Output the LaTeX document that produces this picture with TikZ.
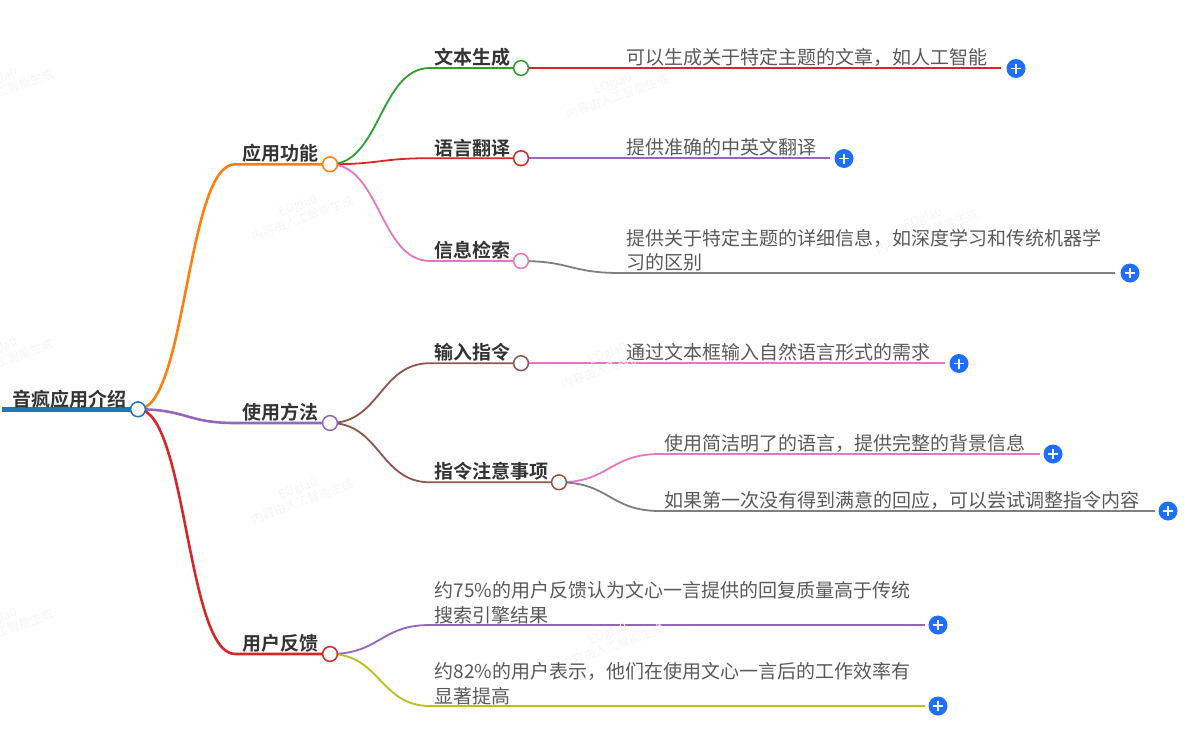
\documentclass[tikz,border=0pt]{standalone}
\usepackage{fontspec}
\setmainfont{Noto Sans CJK SC}[BoldFont={Noto Sans CJK SC Bold}]
\usetikzlibrary{calc,backgrounds}
\definecolor{cBlue}{HTML}{1F77B4}
\definecolor{cOrange}{HTML}{FF7F0E}
\definecolor{cGreen}{HTML}{2CA02C}
\definecolor{cRed}{HTML}{D62728}
\definecolor{cPurple}{HTML}{9467BD}
\definecolor{cBrown}{HTML}{8C564B}
\definecolor{cPink}{HTML}{E377C2}
\definecolor{cGray}{HTML}{7F7F7F}
\definecolor{cOlive}{HTML}{BCBD22}
\definecolor{cPlus}{HTML}{1F6FFF}
\tikzset{
  x=1pt,y=-1pt,
  dot/.style={circle,draw=#1,fill=white,line width=1.5pt,minimum size=14.8pt,inner sep=0pt},
  headtext/.style={anchor=west,inner sep=0pt,font=\fontsize{19}{19}\selectfont\bfseries,text=black!80},
  bodytext/.style={anchor=west,inner sep=0pt,align=left,font=\fontsize{19}{24.5}\selectfont,text=black!65},
  plusbtn/.style={circle,fill=cPlus,minimum size=19pt,inner sep=0pt,path picture={
    \draw[white,line width=1.4pt] ([xshift=-5pt]path picture bounding box.center) -- ([xshift=5pt]path picture bounding box.center);
    \draw[white,line width=1.4pt] ([yshift=-5pt]path picture bounding box.center) -- ([yshift=5pt]path picture bounding box.center);}},
  wm/.style={rotate=20,inner sep=0pt,align=center,text=black!4,font=\fontsize{12}{14}\selectfont},
  linkA/.style={draw=#1,line width=2.6pt},
  linkB/.style={draw=#1,line width=1.8pt},
}
% curve from node #2 to elbow coordinate #3, then straight to the node or coordinate #4
\newcommand{\branch}[4]{%
  \coordinate (mid) at ($(#2.center)!.5!(#3)$);
  \draw[#1] (#2.center) .. controls (#2.center -| mid) and (#3 -| mid) .. (#3) -- (#4);}
\begin{document}
\begin{tikzpicture}
\useasboundingbox (0,0) rectangle (1186,742);
% watermarks
\foreach \i/\wx/\wy in {a/615/90,b/925/225,c/300/212,d/610/360,e/300/495,f/610/640,g/0/85,h/0/355,i/0/625}
  \node[wm] (wm\i) at (\wx,\wy) {EOgla0\\内容由人工智能生成};
% circles
\node[dot=cBlue] (root) at (138,409.3) {};
\node[dot=cOrange] (n1) at (330,164.3) {};
\node[dot=cPurple] (n2) at (330,423) {};
\node[dot=cRed] (n3) at (330,654) {};
\node[dot=cGreen] (n11) at (521,68) {};
\node[dot=cRed] (n12) at (521,158.2) {};
\node[dot=cPink] (n13) at (521,261) {};
\node[dot=cBrown] (n21) at (521,363.2) {};
\node[dot=cBrown] (n22) at (559,482.3) {};
% plus buttons
\node[plusbtn] (p11) at (1016,68.5) {};
\node[plusbtn] (p12) at (844,158.5) {};
\node[plusbtn] (p13) at (1130,273) {};
\node[plusbtn] (p21) at (959,363.5) {};
\node[plusbtn] (p221) at (1053,454) {};
\node[plusbtn] (p222) at (1168,511) {};
\node[plusbtn] (p31) at (938,625) {};
\node[plusbtn] (p32) at (938,706) {};
% free ends and elbows
\coordinate (start) at (2,409.3);
\coordinate (e1) at (235,164.3);
\coordinate (e2) at (235,423);
\coordinate (e3) at (235,654);
\coordinate (e11) at (430,68);
\coordinate (e12) at (430,158.2);
\coordinate (e13) at (430,261);
\coordinate (e21) at (430,363.2);
\coordinate (e22) at (430,482.3);
\coordinate (e131) at (620,273);
\coordinate (e221) at (660,454);
\coordinate (e222) at (660,511);
\coordinate (e31) at (430,625);
\coordinate (e32) at (430,706);
\coordinate (x11) at (1001,68);
\coordinate (x12) at (830,158.2);
\coordinate (x131) at (1115,273);
\coordinate (x21) at (945,363.2);
\coordinate (x221) at (1040,454);
\coordinate (x222) at (1155,511);
\coordinate (x31) at (925,625);
\coordinate (x32) at (925,706);
\begin{pgfonlayer}{background}
\draw[draw=cBlue,line width=4.6pt] (start) -- (root.center);
\branch{linkA=cOrange}{root}{e1}{n1.center}
\branch{linkA=cPurple}{root}{e2}{n2.center}
\branch{linkA=cRed}{root}{e3}{n3.center}
\branch{linkB=cGreen}{n1}{e11}{n11.center}
\branch{linkB=cRed}{n1}{e12}{n12.center}
\branch{linkB=cPink}{n1}{e13}{n13.center}
\branch{linkB=cBrown}{n2}{e21}{n21.center}
\branch{linkB=cBrown}{n2}{e22}{n22.center}
\branch{linkB=cPink}{n22}{e221}{x221}
\branch{linkB=cGray}{n22}{e222}{x222}
\branch{linkB=cGray}{n13}{e131}{x131}
\branch{linkB=cPurple}{n3}{e31}{x31}
\branch{linkB=cOlive}{n3}{e32}{x32}
\draw[linkB=cRed] (n11.center) -- (x11);
\draw[linkB=cPurple] (n12.center) -- (x12);
\draw[linkB=cPink] (n21.center) -- (x21);
\end{pgfonlayer}
% labels
\node[headtext] (troot) at (12.5,399) {音疯应用介绍};
\node[headtext] (t1) at (242.5,153.5) {应用功能};
\node[headtext] (t2) at (242.5,412) {使用方法};
\node[headtext] (t3) at (242.5,643) {用户反馈};
\node[headtext] (t11) at (434.5,57) {文本生成};
\node[headtext] (t12) at (434.5,148) {语言翻译};
\node[headtext] (t13) at (434.5,250) {信息检索};
\node[headtext] (t21) at (434.5,352.5) {输入指令};
\node[headtext] (t22) at (434.5,471.5) {指令注意事项};
\node[bodytext] (d11) at (626,57) {可以生成关于特定主题的文章，如人工智能};
\node[bodytext] (d12) at (626,147) {提供准确的中英文翻译};
\node[bodytext] (d13) at (626,250) {提供关于特定主题的详细信息，如深度学习和传统机器学\\习的区别};
\node[bodytext] (d21) at (626,352) {通过文本框输入自然语言形式的需求};
\node[bodytext] (d221) at (664,443) {使用简洁明了的语言，提供完整的背景信息};
\node[bodytext] (d222) at (664,500) {如果第一次没有得到满意的回应，可以尝试调整指令内容};
\node[bodytext] (d31) at (434.5,602.5) {约75\%的用户反馈认为文心一言提供的回复质量高于传统\\搜索引擎结果};
\node[bodytext] (d32) at (434.5,683.5) {约82\%的用户表示，他们在使用文心一言后的工作效率有\\显著提高};
\end{tikzpicture}
\end{document}
